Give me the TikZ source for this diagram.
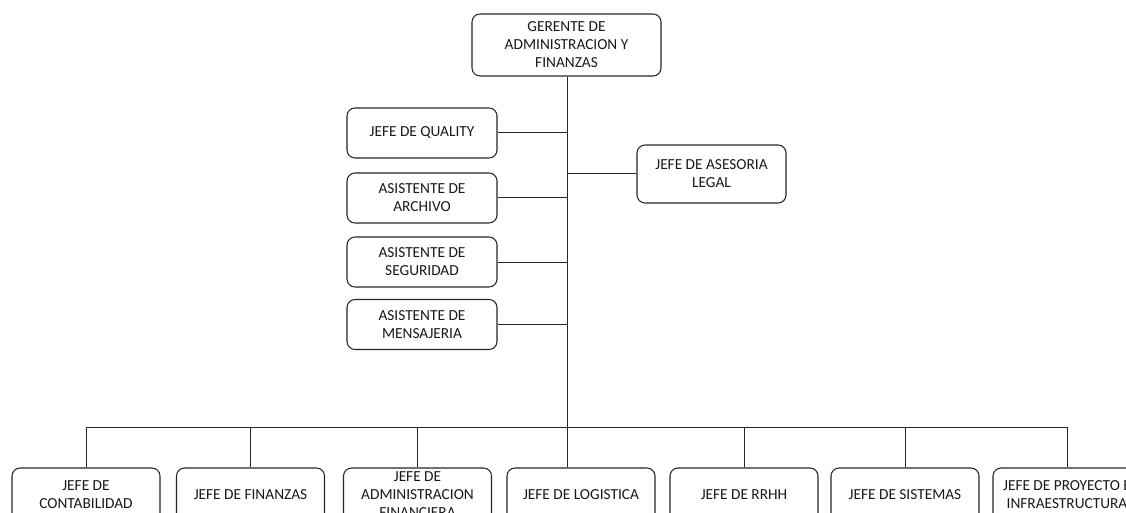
\documentclass[tikz,border=0pt]{standalone}
\usepackage{fontspec}
\setmainfont{Carlito}
\begin{document}
\begin{tikzpicture}[x=0.75pt,y=-0.75pt,
  box/.style={draw=black!85,line width=0.8pt,rounded corners=6pt,align=center,
    inner sep=1pt,font=\fontsize{11.5}{13.5}\selectfont,text=black!90},
  sidebox/.style={box,minimum width=112.5pt,minimum height=37.5pt},
  lowbox/.style={box,minimum width=111pt,minimum height=40.5pt},
  link/.style={draw=black!85,line width=0.75pt}]
\useasboundingbox (0,0) rectangle (1126,513);
\clip (0,0) rectangle (1126,513);
\fill[white] (0,0) rectangle (1126,513);
% top
\node[box,minimum width=141.75pt,minimum height=46.5pt] (ger) at (566.5,45)
  {GERENTE DE\\ADMINISTRACION Y\\FINANZAS};
% side boxes
\node[sidebox] (qual) at (422,133) {JEFE DE QUALITY};
\node[sidebox] (arch) at (422,198) {ASISTENTE DE\\ARCHIVO};
\node[sidebox] (seg)  at (422,262) {ASISTENTE DE\\SEGURIDAD};
\node[sidebox] (mens) at (422,324.5) {ASISTENTE DE\\MENSAJERIA};
\node[box,minimum width=111.75pt,minimum height=43.5pt] (legal) at (711.5,174)
  {JEFE DE ASESORIA\\LEGAL};
% bottom boxes
\node[lowbox] (cont) at (86,495) {JEFE DE\\CONTABILIDAD};
\node[lowbox] (fin)  at (250.5,495) {JEFE DE FINANZAS};
\node[lowbox] (adm)  at (417.5,495) {JEFE DE\\ADMINISTRACION\\FINANCIERA};
\node[lowbox] (log)  at (581,495) {JEFE DE LOGISTICA};
\node[lowbox] (rrhh) at (744,495) {JEFE DE RRHH};
\node[lowbox] (sis)  at (905,495) {JEFE DE SISTEMAS};
\node[lowbox] (proy) at (1067,495) {JEFE DE PROYECTO E\\INFRAESTRUCTURA};
% trunk
\coordinate (tx) at (567,76);
\coordinate (bar) at (567,427);
\draw[link] (ger.south -| tx) -- (tx |- log.north);
\foreach \n in {qual,arch,seg,mens}
  \draw[link] (\n.east) -- (\n.east -| tx);
\draw[link] (legal.west) -- (legal.west -| tx);
\draw[link] (cont.north |- bar) -- (proy.north |- bar);
\foreach \n in {cont,fin,adm,rrhh,sis,proy}
  \draw[link] (\n.north |- bar) -- (\n.north);
\end{tikzpicture}
\end{document}
